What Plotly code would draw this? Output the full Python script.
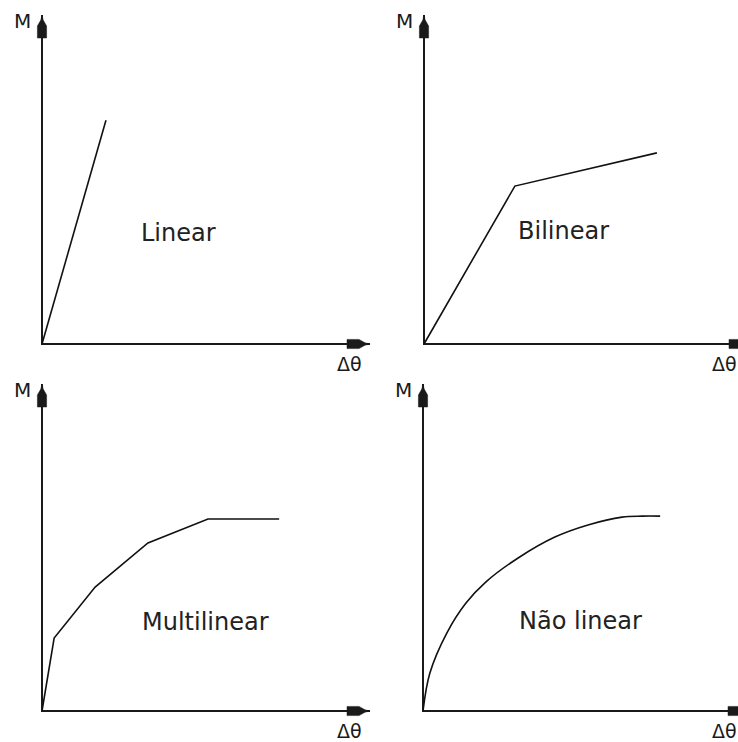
import plotly.graph_objects as go

W, H = 738, 742

# ---- data (arbitrary units, axes run 0..100) ----
axis_end = 100.0
linear_x = [0, 19.5]
linear_y = [0, 68.0]
bilinear_x = [0, 27.7, 71.0]
bilinear_y = [0, 48.0, 58.1]
multi_x = [0, 3.7, 16.2, 32.3, 50.6, 72.3]
multi_y = [0, 22.3, 37.9, 51.4, 58.7, 58.7]
nonlin_x = [0, 2.1, 7.3, 13.1, 19.2, 29.0, 40.2, 50.3, 60.7, 66.8, 72.3]
nonlin_y = [0, 11.6, 23.9, 33.0, 39.5, 46.8, 53.2, 56.9, 59.3, 59.6, 59.6]
titles = ["Linear", "Bilinear", "Multilinear", "Não linear"]
y_label = "M"
x_label = "Δθ"

curves = [(linear_x, linear_y, "linear"),
          (bilinear_x, bilinear_y, "linear"),
          (multi_x, multi_y, "linear"),
          (nonlin_x, nonlin_y, "spline")]

# ---- layout geometry (pixels) ----
panels = [
    dict(ox=42, oy=344, tipx=370, tipy=15, box=(0, 380, 0, 372), title_xy=(41.5, 33.7)),
    dict(ox=424, oy=344, tipx=752, tipy=15, box=(381, 738, 0, 372), title_xy=(42.4, 34.3)),
    dict(ox=42, oy=711, tipx=370, tipy=384, box=(0, 380, 372, 742), title_xy=(49.7, 27.2)),
    dict(ox=423, oy=711, tipx=751, tipy=384, box=(381, 738, 372, 742), title_xy=(47.9, 27.5)),
]

FONT = "DejaVu Sans"
INK = "#1a1a1a"

fig = go.Figure()
layout = dict(width=W, height=H, margin=dict(l=0, r=0, t=0, b=0),
              paper_bgcolor="white", plot_bgcolor="white", showlegend=False)
shapes = []
annotations = []

for i, p in enumerate(panels):
    n = "" if i == 0 else str(i + 1)
    xa, ya = "x" + n, "y" + n
    sx = (p["tipx"] - p["ox"]) / axis_end
    sy = (p["oy"] - p["tipy"]) / axis_end
    bx0, bx1, by0, by1 = p["box"]
    layout["xaxis" + n] = dict(visible=False, fixedrange=True, anchor=ya,
                               domain=[bx0 / W, bx1 / W],
                               range=[(bx0 - p["ox"]) / sx, (bx1 - p["ox"]) / sx])
    layout["yaxis" + n] = dict(visible=False, fixedrange=True, anchor=xa,
                               domain=[(H - by1) / H, (H - by0) / H],
                               range=[(p["oy"] - by1) / sy, (p["oy"] - by0) / sy])

    # axes
    fig.add_trace(go.Scatter(x=[0, 0, axis_end], y=[axis_end, 0, 0], mode="lines",
                             line=dict(color=INK, width=2), xaxis=xa, yaxis=ya,
                             hoverinfo="skip"))
    # curve
    cx, cy, shp = curves[i]
    fig.add_trace(go.Scatter(x=cx, y=cy, mode="lines",
                             line=dict(color="#111111", width=1.6, shape=shp),
                             xaxis=xa, yaxis=ya, hoverinfo="skip"))

    # arrowheads (pixel sizes converted to data units)
    head = [(-5, 1.2), (-11, 4.6), (-23, 4.6), (-23, -4.6), (-11, -4.6), (-5, -1.2)]
    pts = [(axis_end + d / sx, w / sy) for d, w in head]
    path = "M {} {} ".format(axis_end, 0) + " ".join("L {:.4f} {:.4f}".format(a, b) for a, b in pts) + " Z"
    shapes.append(dict(type="path", xref=xa, yref=ya, path=path,
                       fillcolor=INK, line=dict(color=INK, width=0.5)))
    pts = [(w / sx, axis_end + d / sy) for d, w in head]
    path = "M {} {} ".format(0, axis_end) + " ".join("L {:.4f} {:.4f}".format(a, b) for a, b in pts) + " Z"
    shapes.append(dict(type="path", xref=xa, yref=ya, path=path,
                       fillcolor=INK, line=dict(color=INK, width=0.5)))

    # labels
    annotations.append(dict(x=0, y=axis_end, xref=xa, yref=ya, text=y_label,
                            showarrow=False, xshift=-20, yshift=-6,
                            font=dict(family=FONT, size=20, color=INK)))
    lab_px = min(p["tipx"] - 21, W - 14)
    annotations.append(dict(x=(lab_px - p["ox"]) / sx, y=0, xref=xa, yref=ya, text=x_label,
                            showarrow=False, yshift=-20,
                            font=dict(family=FONT, size=19, color=INK)))
    tx, ty = p["title_xy"]
    annotations.append(dict(x=tx, y=ty, xref=xa, yref=ya, text=titles[i],
                            showarrow=False,
                            font=dict(family=FONT, size=24, color="#222222")))

layout["shapes"] = shapes
layout["annotations"] = annotations
fig.update_layout(**layout)
fig.write_html("out.html", config={"displayModeBar": False},
               post_script="document.body.style.margin='0px';"
                           "document.body.style.overflow='hidden';")
